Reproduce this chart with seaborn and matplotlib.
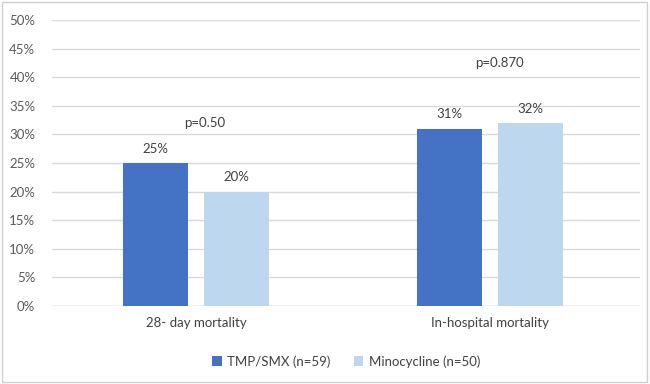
import pandas as pd
import matplotlib
matplotlib.use("Agg")
import matplotlib.pyplot as plt
import seaborn as sns
from matplotlib.patches import Rectangle

categories = ["28- day mortality", "In-hospital mortality"]
groups = ["TMP/SMX (n=59)", "Minocycline (n=50)"]
tmp_values = [25, 31]
mino_values = [20, 32]
p_labels = ["p=0.50", "p=0.870"]
p_heights = [32, 42.5]
y_ticks = [0, 5, 10, 15, 20, 25, 30, 35, 40, 45, 50]

df = pd.DataFrame({
    "category": categories * 2,
    "group": [groups[0]] * 2 + [groups[1]] * 2,
    "value": tmp_values + mino_values,
})

sns.set_style("white")
plt.rcParams["font.family"] = ["Lato", "DejaVu Sans"]
txt = "#595959"

fig = plt.figure(figsize=(6.5, 3.84), dpi=100)
ax = fig.add_axes([0.08, 0.203, 0.905, 0.745])

sns.barplot(data=df, x="category", y="value", hue="group",
            palette=["#4472C4", "#BDD7EE"], width=0.55, gap=0.2,
            saturation=1, linewidth=0, ax=ax, zorder=3)

for cont in ax.containers:
    ax.bar_label(cont, labels=[f"{v:.0f}%" for v in cont.datavalues],
                 padding=6, fontsize=9.5, color="#404040")

for i, (lab, h) in enumerate(zip(p_labels, p_heights)):
    ax.text(i + 0.03, h, lab, ha="center", va="center", fontsize=9.5, color="#404040")

ax.set_ylim(0, 50)
ax.set_xlim(-0.49, 1.51)
ax.set_yticks(y_ticks)
ax.set_yticklabels([f"{t}%" for t in y_ticks], fontsize=9.5, color=txt)
ax.tick_params(axis="x", labelsize=9.5, labelcolor="#404040", length=0, pad=8)
ax.tick_params(axis="y", length=0, pad=12)
ax.yaxis.grid(True, color="#D9D9D9", linewidth=1, zorder=0)
ax.set_xlabel("")
ax.set_ylabel("")
for s in ax.spines.values():
    s.set_visible(False)
ax.axhline(0, color="#D9D9D9", linewidth=1, zorder=1)

handles, labels = ax.get_legend_handles_labels()
ax.legend(handles, labels, loc="upper center", bbox_to_anchor=(0.5, -0.13),
          ncol=2, frameon=False, fontsize=9.5, handlelength=0.7, handleheight=0.7,
          handletextpad=0.4, columnspacing=1.8, labelcolor="#404040")

fig.patches.append(Rectangle((0.003, 0.004), 0.993, 0.99, transform=fig.transFigure,
                             fill=False, edgecolor="#D0D0D0", linewidth=1))

fig.savefig("out.png", dpi=100)
